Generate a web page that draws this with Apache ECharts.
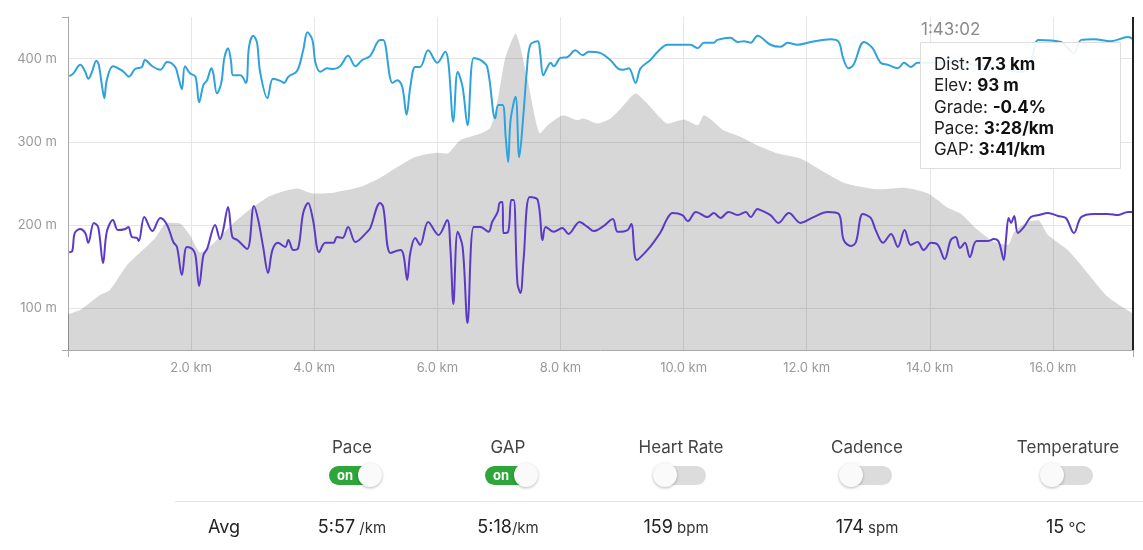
<!DOCTYPE html>
<html>
<head>
<meta charset="utf-8">
<script src="https://cdn.jsdelivr.net/npm/echarts@6/dist/echarts.min.js"></script>
<style>
html,body{margin:0;padding:0;background:#fff;}
#wrap{position:relative;width:1143px;height:550px;overflow:hidden;font-family:Inter,"Noto Sans",sans-serif;}
#chart{position:absolute;left:0;top:0;width:1143px;height:550px;}
.c{position:absolute;transform:translateX(-50%);white-space:nowrap;}
.hdr{top:437px;font-size:17px;color:#444;}
.tg{position:absolute;width:52px;height:19px;border-radius:10px;top:466px;}
.tg.on{background:#2ea63a;}
.tg.off{background:#dcdcdc;}
.tg .lbl{position:absolute;left:8px;top:0;line-height:18px;font-size:13px;font-weight:700;color:#fff;}
.knob{position:absolute;width:24px;height:24px;border-radius:50%;background:#fafafa;top:-3px;box-shadow:0 1px 3px rgba(0,0,0,0.28);}
.tg.on .knob{right:-1px;}
.tg.off .knob{left:-1px;}
.div{position:absolute;left:175px;top:501px;width:968px;height:1px;background:#e6e6e6;}
.avg{top:516px;font-size:18px;color:#222;}
.avg small{font-size:15px;color:#333;}
</style>
</head>
<body>
<div id="wrap">
<div id="chart"></div>
<div id="panel"></div>
</div>
<script>
// ---------- data ----------
const cursorKm = 17.3;
const xTicksKm = [2, 4, 6, 8, 10, 12, 14, 16];
const elevTicks = [100, 200, 300, 400];

const elevDist = [0,0.2,0.31,0.52,0.68,0.96,1.17,1.41,1.61,1.82,
  1.98,2.15,2.36,2.68,3.01,3.28,3.56,3.72,3.98,4.31,
  4.75,5.07,5.61,6.0,6.16,6.37,6.70,6.86,6.98,7.1,
  7.27,7.46,7.67,7.79,8.05,8.28,8.37,8.6,8.81,8.98,
  9.22,9.41,9.58,9.74,10.0,10.23,10.33,10.65,10.93,11.25,
  11.53,11.9,12.23,12.6,12.88,13.15,13.58,13.97,14.29,14.5,
  14.78,15.04,15.27,15.37,15.59,15.76,15.92,16.24,16.5,16.89,
  17.27,17.3];
const elevM = [93,98,104,116,122,152,167,184,203,202,
  188,167,178,202,222,235,242,244,238,239,
  246,257,281,287,286,302,310,317,350,400,
  430,377,310,320,332,326,328,322,328,340,
  358,346,332,322,327,320,332,314,306,294,
  286,280,266,251,246,243,245,238,221,214,
  194,180,176,192,204,206,188,170,148,114,
  95,93];

// Pace as speed (m/s)
const paceDist = [0.02,0.07,0.11,0.20,0.28,0.33,0.42,0.49,0.57,0.63,
  0.73,0.81,0.93,0.98,1.04,1.12,1.15,1.24,1.37,1.50,
  1.61,1.71,1.77,1.85,1.93,2.02,2.07,2.13,2.20,2.26,
  2.39,2.47,2.52,2.60,2.67,2.75,2.91,3.02,3.09,3.17,
  3.25,3.32,3.41,3.53,3.58,3.66,3.74,3.82,3.90,3.98,
  4.08,4.18,4.31,4.37,4.46,4.55,4.67,4.86,4.91,5.07,
  5.12,5.24,5.40,5.45,5.51,5.56,5.64,5.72,5.85,6.02,
  6.16,6.21,6.26,6.33,6.41,6.49,6.59,6.70,6.83,6.89,
  6.98,7.01,7.06,7.07,7.15,7.20,7.24,7.30,7.35,7.40,
  7.50,7.63,7.71,7.76,7.89,8.03,8.13,8.31,8.44,8.54,
  8.70,8.85,8.93,9.09,9.15,9.24,9.41,9.54,9.63,9.74,
  9.82,9.98,10.07,10.20,10.39,10.49,10.60,10.73,10.88,11.01,
  11.09,11.20,11.25,11.41,11.54,11.71,11.90,12.11,12.34,12.52,
  12.60,12.72,12.80,12.91,13.04,13.12,13.24,13.37,13.48,13.59,
  13.69,13.80,13.90,14.02,14.13,14.24,14.34,14.42,14.49,14.57,
  14.65,14.76,14.94,15.04,15.12,15.20,15.24,15.28,15.32,15.37,
  15.43,15.53,15.64,15.77,15.92,16.08,16.21,16.34,16.46,16.67,
  16.89,17.06,17.22,17.30];
const paceSpeed = [3.38,3.42,4.04,4.18,4.04,3.70,4.39,4.25,3.00,4.08,
  4.49,4.14,4.18,4.25,3.90,3.87,3.76,4.59,4.11,4.56,
  4.32,3.73,3.56,2.59,3.56,3.49,3.28,2.21,3.28,3.49,
  4.32,3.83,4.14,4.94,3.90,3.80,3.49,4.97,4.49,3.56,
  2.66,3.45,3.70,3.56,3.80,3.45,3.52,4.73,5.08,4.49,
  3.38,3.70,3.70,3.90,3.87,4.25,3.73,4.08,4.21,5.08,
  4.94,3.35,3.45,3.28,2.42,3.35,3.87,3.63,4.42,3.97,
  4.49,3.56,1.59,4.08,3.56,0.93,4.25,4.25,4.08,4.42,
  4.77,5.08,5.11,4.04,4.08,5.18,5.18,2.31,1.97,3.11,
  5.28,5.18,3.80,4.25,4.08,4.21,4.01,4.42,4.25,4.11,
  4.28,4.52,4.08,4.14,4.35,3.11,3.45,3.80,4.08,4.56,
  4.73,4.66,4.45,4.77,4.59,4.73,4.56,4.77,4.66,4.77,
  4.59,4.87,4.83,4.66,4.39,4.73,4.39,4.59,4.77,4.70,
  3.80,3.59,3.73,4.70,4.56,4.14,3.70,4.01,3.56,4.14,
  3.63,3.73,3.45,3.70,3.63,3.14,3.80,3.90,3.52,3.70,
  3.21,3.76,3.76,3.83,3.73,3.11,3.90,4.56,4.39,4.63,
  4.04,4.25,4.59,4.66,4.73,4.63,4.56,4.04,4.59,4.70,
  4.70,4.66,4.77,4.77];

// Grade adjusted pace as speed (m/s)
const gapDist = [0.02,0.08,0.20,0.28,0.33,0.39,0.46,0.50,0.55,0.59,
  0.63,0.73,0.89,0.99,1.09,1.20,1.25,1.37,1.50,1.61,
  1.74,1.79,1.85,1.90,1.98,2.07,2.13,2.20,2.26,2.33,
  2.36,2.42,2.49,2.54,2.60,2.65,2.68,2.80,2.89,2.94,
  3.01,3.07,3.12,3.24,3.33,3.45,3.51,3.58,3.72,3.82,
  3.89,3.97,4.02,4.10,4.21,4.31,4.42,4.55,4.67,4.78,
  4.91,5.02,5.07,5.12,5.27,5.35,5.43,5.50,5.56,5.64,
  5.72,5.85,6.00,6.13,6.18,6.26,6.33,6.41,6.49,6.59,
  6.70,6.81,6.94,6.99,7.06,7.11,7.15,7.19,7.27,7.33,
  7.40,7.45,7.51,7.63,7.67,7.72,7.79,7.84,7.89,8.00,
  8.11,8.24,8.36,8.46,8.65,8.81,8.93,9.02,9.11,9.22,
  9.30,9.46,9.58,9.74,9.95,10.11,10.23,10.33,10.49,10.55,
  10.76,10.88,10.98,11.09,11.20,11.41,11.58,11.69,11.85,12.07,
  12.39,12.52,12.59,12.68,12.76,12.93,13.07,13.20,13.32,13.48,
  13.58,13.69,13.80,13.93,14.34,14.75,15.15,15.48,15.61,15.69,
  15.76,16.13,16.34,16.46,16.67,16.94,17.22,17.30];
const gapSpeed = [3.95,3.98,4.11,4.01,3.91,4.01,4.17,4.11,3.82,3.63,
  3.89,4.09,4.02,3.94,4.05,4.08,4.18,4.09,4.04,4.15,
  4.08,3.94,3.76,4.09,3.99,3.94,3.57,3.82,3.89,4.06,
  3.99,3.70,3.85,4.21,4.35,4.15,3.96,3.96,3.85,4.37,
  4.53,4.43,4.01,3.63,3.91,3.88,3.85,3.94,4.02,4.32,
  4.58,4.47,4.14,4.01,4.06,4.05,4.09,4.24,4.09,4.18,
  4.24,4.43,4.47,4.47,3.85,3.89,3.79,3.39,3.79,4.08,
  4.08,4.32,4.14,4.30,4.14,3.29,4.01,3.79,3.24,4.21,
  4.18,4.08,3.34,3.53,3.53,3.07,2.71,3.32,3.65,2.78,
  3.42,3.99,4.40,4.45,4.28,3.96,4.08,4.14,4.09,4.21,
  4.22,4.32,4.25,4.30,4.28,4.18,4.06,4.04,4.06,3.85,
  4.06,4.18,4.30,4.40,4.40,4.40,4.35,4.43,4.43,4.47,
  4.50,4.44,4.45,4.43,4.53,4.40,4.37,4.43,4.40,4.44,
  4.48,4.44,4.21,4.06,4.11,4.44,4.35,4.14,4.11,4.06,
  4.14,4.08,4.14,4.14,4.15,4.11,4.06,4.01,4.06,4.32,
  4.47,4.44,4.28,4.47,4.48,4.45,4.51,4.48];

const cursorTime = '1:43:02';
const tipLabels = ['Dist: ', 'Elev: ', 'Grade: ', 'Pace: ', 'GAP: '];
const tipValues = ['17.3 km', '93 m', '-0.4%', '3:28/km', '3:41/km'];

const metricNames = ['Pace', 'GAP', 'Heart Rate', 'Cadence', 'Temperature'];
const metricOn = [true, true, false, false, false];
const avgNums = ['5:57', '5:18', '159', '174', '15'];
const avgUnits = [' /km', '/km', ' bpm', ' spm', ' ℃'];

// ---------- chart ----------
const FONT = 'Inter, "Noto Sans", sans-serif';
const zip = (a, b) => a.map((v, i) => [v, b[i]]);

const chart = echarts.init(document.getElementById('chart'));
const tipGraphics = [
  {type:'text', x:921, y:30, z:100, style:{text:cursorTime, fill:'#8a8a8a', fontSize:17, fontFamily:FONT, verticalAlign:'middle'}},
  {type:'rect', z:100, shape:{x:920.5, y:42.5, width:200, height:126}, style:{fill:'rgba(255,255,255,0.9)', stroke:'#dddddd', lineWidth:1}}
];
tipLabels.forEach((l, i) => {
  tipGraphics.push({type:'text', x:934, y:65 + i * 21.3, z:101,
    style:{text:'{a|' + l + '}{b|' + tipValues[i] + '}', verticalAlign:'middle',
      rich:{a:{fontSize:17, fontFamily:FONT, fill:'#222', color:'#222'},
            b:{fontSize:17, fontFamily:FONT, fontWeight:'bold', fill:'#111', color:'#111'}}}});
});

const option = {
  animation:false,
  grid:{left:68, right:10, top:17, bottom:200},
  xAxis:[{
    type:'value', min:0, max:cursorKm, interval:2,
    axisLine:{onZero:false, lineStyle:{color:'#a8a8a8', width:1}},
    axisTick:{show:false},
    axisLabel:{color:'#999', fontSize:13, fontFamily:FONT, margin:12, showMinLabel:false, showMaxLabel:false,
      formatter:v => xTicksKm.includes(v) ? v.toFixed(1) + ' km' : ''},
    splitLine:{show:true, lineStyle:{color:'#e6e6e6', width:1}}
  },{
    type:'value', min:0, max:cursorKm, position:'bottom',
    axisLine:{show:false, onZero:false}, axisLabel:{show:false}, splitLine:{show:false},
    axisTick:{show:true, customValues:[0, cursorKm], length:7, lineStyle:{color:'#a8a8a8'}}
  }],
  yAxis:[{
    type:'value', min:50, max:450, position:'left',
    axisLine:{show:true, onZero:false, lineStyle:{color:'#a8a8a8', width:1}},
    axisTick:{show:false, customValues:elevTicks},
    axisLabel:{customValues:elevTicks, formatter:'{value} m', color:'#999', fontSize:13, fontFamily:FONT, margin:11},
    splitLine:{show:true, lineStyle:{color:'#e6e6e6', width:1}}
  },{
    type:'value', min:50, max:450, position:'left',
    axisLine:{show:false, onZero:false}, axisLabel:{show:false}, splitLine:{show:false},
    axisTick:{show:true, customValues:[50, 450], length:6, lineStyle:{color:'#a8a8a8'}}
  },{
    type:'value', min:0, max:11.5, show:false
  },{
    type:'value', min:0, max:4.8, show:false
  }],
  series:[{
    name:'Elevation', type:'line', xAxisIndex:0, yAxisIndex:0,
    data:zip(elevDist, elevM), symbol:'none', smooth:0.2,
    lineStyle:{width:0}, areaStyle:{color:'rgba(0,0,0,0.155)', opacity:1, origin:'start'},
    silent:true, z:1,
    markLine:{silent:true, symbol:'none', label:{show:false}, animation:false,
      lineStyle:{color:'#222', width:2, type:'solid'}, data:[{xAxis:cursorKm}]}
  },{
    name:'Pace', type:'line', xAxisIndex:0, yAxisIndex:2,
    data:zip(paceDist, paceSpeed), symbol:'none', smooth:0.35,
    lineStyle:{color:'#5b3ac6', width:2}, z:3
  },{
    name:'GAP', type:'line', xAxisIndex:0, yAxisIndex:3,
    data:zip(gapDist, gapSpeed), symbol:'none', smooth:0.35,
    lineStyle:{color:'#2fa2dc', width:2}, z:4
  }],
  graphic:tipGraphics
};
chart.setOption(option);

// ---------- bottom panel ----------
const hdrX = [352, 508, 681, 867, 1068];
const tgX = [355, 511, 680, 866, 1067];
const avgX = [352, 508, 676, 867, 1066];
let html = '';
metricNames.forEach((m, i) => {
  html += '<div class="c hdr" style="left:' + hdrX[i] + 'px">' + m + '</div>';
  html += '<div class="tg ' + (metricOn[i] ? 'on' : 'off') + '" style="left:' + (tgX[i] - 26) + 'px">' +
    (metricOn[i] ? '<span class="lbl">on</span>' : '') + '<div class="knob"></div></div>';
  html += '<div class="c avg" style="left:' + avgX[i] + 'px">' + avgNums[i] + '<small>' + avgUnits[i] + '</small></div>';
});
html += '<div class="div"></div>';
html += '<div class="c avg" style="left:224px">Avg</div>';
document.getElementById('panel').innerHTML = html;
</script>
</body>
</html>
